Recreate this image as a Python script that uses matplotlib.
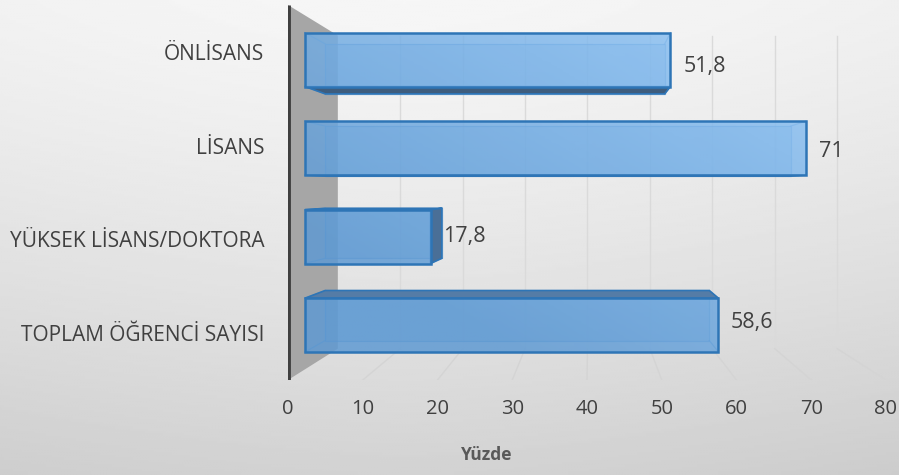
import numpy as np
import matplotlib.pyplot as plt
from matplotlib.patches import Polygon
from matplotlib.colors import LinearSegmentedColormap

# data
categories = ["TOPLAM ÖĞRENCİ SAYISI", "YÜKSEK LİSANS/DOKTORA", "LİSANS", "ÖNLİSANS"]
values = [58.6, 17.8, 71, 51.8]
x_ticks = [0, 10, 20, 30, 40, 50, 60, 70, 80]
x_title = "Yüzde"

# fake 3d: vanishing point and depths, in front-plane data units
VX, VY = 40.4, 1.527
K_WALL = 0.835
K_FRONT, K_BACK = 0.944, 0.877
HALF = 0.304
Y0, Y1 = -0.5, 3.5


def proj(x, y, k):
    return (VX + (x - VX) * k, VY + (y - VY) * k)


plt.rcParams['font.family'] = ['Open Sans', 'DejaVu Sans']

fig = plt.figure(figsize=(8.99, 4.75), dpi=100)

# background gradient
bg = fig.add_axes([0, 0, 1, 1], zorder=-10)
yy, xx = np.mgrid[0:1:200j, 0:1:300j]
shade = 0.965 - 0.14 * yy ** 1.3 - 0.06 * np.abs(xx - 0.45) ** 1.5
bg.imshow(shade, cmap='gray', vmin=0, vmax=1, extent=[0, 1, 0, 1],
          aspect='auto', origin='upper')
bg.axis('off')

ax = fig.add_axes([288 / 899, 95 / 475, 598 / 899, 375 / 475])
ax.patch.set_visible(False)
for s in ax.spines.values():
    s.set_visible(False)

# side wall
ax.add_patch(Polygon([proj(0, Y1, 1), proj(0, Y1, K_WALL), proj(0, Y0, K_WALL), proj(0, Y0, 1)],
                     closed=True, fc='#a6a6a6', ec='none', zorder=1))

# back wall grid + floor lines
for v in x_ticks[1:]:
    p, q = proj(v, Y0, K_WALL), proj(v, Y1, K_WALL)
    ax.plot([p[0], q[0]], [p[1], q[1]], color='#dadada', lw=1, zorder=1)
    f = proj(v, Y0, 1)
    ax.plot([f[0], p[0]], [f[1], p[1]], color='#d4d4d4', lw=1, zorder=1)

# axis line
ax.plot([0, 0], [Y0, Y1], color='#3f3f3f', lw=3.5, solid_capstyle='butt', zorder=6)

cmap = LinearSegmentedColormap.from_list('bar', ['#5f9ad3', '#7fb6ea', '#a2d2ff'])
gx, gy = np.meshgrid(np.linspace(0, 1, 200), np.linspace(0, 1, 100))
grad = np.clip(0.55 * gx + 0.6 * gy - 0.25, 0, 1)

for i, v in enumerate(values):
    yb, yt = i - HALF, i + HALF
    F = [proj(0, yb, K_FRONT), proj(v, yb, K_FRONT), proj(v, yt, K_FRONT), proj(0, yt, K_FRONT)]
    B = [proj(0, yb, K_BACK), proj(v, yb, K_BACK), proj(v, yt, K_BACK), proj(0, yt, K_BACK)]

    # back face and hidden edges
    ax.add_patch(Polygon(B, closed=True, fc='#5b9bd5', alpha=0.35, ec='none', zorder=2))
    ax.add_patch(Polygon(B, closed=True, fc='none', ec='#3f86c8', lw=0.9, alpha=0.6, zorder=3))
    for a, b in zip(F, B):
        ax.plot([a[0], b[0]], [a[1], b[1]], color='#3f86c8', lw=0.9, alpha=0.6, zorder=3)

    # visible side faces
    if yt < VY:
        ax.add_patch(Polygon([F[3], F[2], B[2], B[3]], closed=True, fc='#557ca6',
                             ec='#2e75b6', lw=1.2, zorder=3))
    if yb > VY:
        ax.add_patch(Polygon([F[0], F[1], B[1], B[0]], closed=True, fc='#3e5d7e',
                             ec='#2e75b6', lw=1.2, zorder=3))
    if v < VX:
        ax.add_patch(Polygon([F[1], F[2], B[2], B[1]], closed=True, fc='#4a6f97',
                             ec='#2e75b6', lw=1.2, zorder=3))

    # front face
    front = Polygon(F, closed=True, fc='none', ec='#2e75b6', lw=1.8, zorder=5)
    ax.add_patch(front)
    im = ax.imshow(grad, cmap=cmap, vmin=0, vmax=1, extent=[0, 80, Y0, Y1],
                   origin='lower', aspect='auto', alpha=0.85, zorder=4)
    im.set_clip_path(front)

    # value label
    lx, ly = proj(v, i, 0.91)
    ax.text(F[1][0] + 1.7, ly - 0.02, f"{v:g}".replace('.', ','), ha='left', va='center',
            fontsize=15.5, color='#404040', zorder=7)

ax.set_xlim(0, 80)
ax.set_ylim(Y0, Y1)
ax.set_xticks(x_ticks)
ax.set_yticks(range(len(categories)))
ax.set_yticklabels(categories)
ax.tick_params(axis='x', length=0, pad=14, labelsize=14.5, labelcolor='#404040')
ax.tick_params(axis='y', length=0, pad=17, labelsize=15, labelcolor='#404040')

fig.text(487 / 899, 1 - 455 / 475, x_title, ha='center', va='center',
         fontsize=12.5, fontweight='bold', color='#595959')

fig.savefig('out.png', dpi=100)
